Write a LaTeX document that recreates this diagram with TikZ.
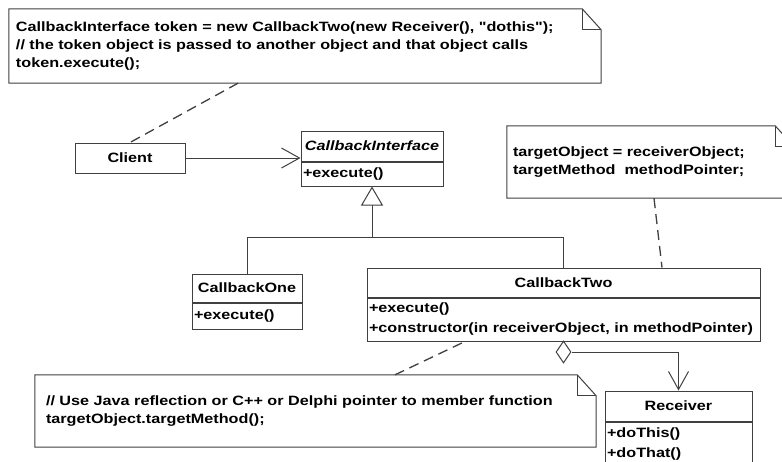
\documentclass[tikz,border=0pt]{standalone}
\usepackage{fontspec}
\newfontfamily\umlfont{Liberation Sans}[FakeStretch=1.2]
\usepackage{tikz}
\usetikzlibrary{calc,positioning,arrows.meta,shapes.geometric}
\definecolor{edge}{HTML}{404040}
\definecolor{ink}{HTML}{000000}
\newcommand{\umltext}{\umlfont\bfseries\fontsize{13.5}{18}\selectfont}
\newcommand{\umlbody}{\umlfont\bfseries\fontsize{13.5}{20}\selectfont}
% outline of a note with its folded corner
\newcommand{\notefold}[1]{%
  \draw[noteline] (#1.north west) -- ([xshift=-19pt]#1.north east) -- ([yshift=-21pt]#1.north east)
    -- (#1.south east) -- (#1.south west) -- cycle;
  \draw[noteline] ([xshift=-19pt]#1.north east) |- ([yshift=-21pt]#1.north east);}
\tikzset{
  classhead/.style={draw=edge, line width=1pt, inner sep=0pt, text=ink, font=\umltext},
  classbody/.style={draw=edge, line width=1pt, inner xsep=2pt, inner ysep=0pt, align=left, text=ink, font=\umlbody},
  note/.style={inner ysep=0pt, align=left, text=ink, font=\umltext},
  noteline/.style={draw=edge, line width=1pt},
  anchorline/.style={draw=edge, line width=1.3pt, dash pattern=on 10pt off 6pt},
  link/.style={draw=edge, line width=1pt},
  assoc/.style={draw=edge, line width=1pt, -{Straight Barb[length=18pt,width=20pt]}},
  inherit/.style={draw=edge, line width=1pt, -{Triangle[open,length=19pt,width=22pt,fill=white]}},
  aggr/.style={diamond, draw=edge, line width=1pt, fill=white, inner sep=0pt, minimum width=15pt, minimum height=22pt}
}

\begin{document}
\begin{tikzpicture}[x=1pt, y=-1pt]
  \useasboundingbox (0,0) rectangle (782,461);
  \fill[white] (0,0) rectangle (782,461);
  \clip (0,0) rectangle (782,461);

  % notes
  \node[note, inner xsep=7pt, text width=578pt, minimum height=74pt] (note1) at (305,46)
    {CallbackInterface token = new CallbackTwo(new Receiver(), "dothis");\\
     // the token object is passed to another object and that object calls\\
     token.execute();};
  \notefold{note1}
  \node[note, inner xsep=6pt, text width=275pt, minimum height=72pt] (note2) at (650.5,162)
    {targetObject = receiverObject;\\
     targetMethod~ methodPointer;};
  \notefold{note2}
  \node[note, inner xsep=11pt, text width=539pt, minimum height=72pt] (note3) at (315.5,411)
    {// Use Java reflection or C++ or Delphi pointer to member function\\
     targetObject.targetMethod();};
  \notefold{note3}

  % classes
  \node[classhead, minimum width=110pt, minimum height=30pt] (client) at (130,158) {Client};

  \node[classhead, minimum width=142pt, minimum height=30pt] (ihead) at (372,146) {\itshape CallbackInterface};
  \node[classbody, text width=138pt, minimum height=24pt, below=0pt of ihead] (ibody) {+execute()};

  \node[classhead, minimum width=110pt, minimum height=28pt] (onehead) at (247,288) {CallbackOne};
  \node[classbody, text width=106pt, minimum height=26pt, below=0pt of onehead] (onebody) {+execute()};

  \node[classhead, minimum width=393pt, minimum height=29pt] (twohead) at (563.5,282.5) {CallbackTwo};
  \node[classbody, text width=389pt, minimum height=43pt, below=0pt of twohead] (twobody)
    {+execute()\\+constructor(in receiverObject, in methodPointer)};

  \node[classhead, minimum width=147pt, minimum height=30pt] (rhead) at (678.5,406) {Receiver};
  \node[classbody, text width=143pt, minimum height=44pt, below=0pt of rhead] (rbody)
    {+doThis()\\+doThat()};

  % relations
  \draw[assoc] (client.east) -- (client.east -| ihead.west);

  \coordinate (fork) at (372,237);
  \draw[link] (onehead.north) |- (fork);
  \draw[link] (twohead.north) |- (fork);
  \draw[inherit] (fork) -- (ibody.south);

  \node[aggr] (agg) at (563.5,352) {};
  \draw[assoc] (agg.east) -| (rhead.north);

  \draw[anchorline] ([xshift=-67pt]note1.south) -- (client.north);
  \draw[anchorline] ([xshift=3.5pt]note2.south) -- ([xshift=98.5pt]twohead.north);
  \draw[anchorline] ([xshift=79.5pt]note3.north) -- ([xshift=-98.5pt]twobody.south);
\end{tikzpicture}
\end{document}
